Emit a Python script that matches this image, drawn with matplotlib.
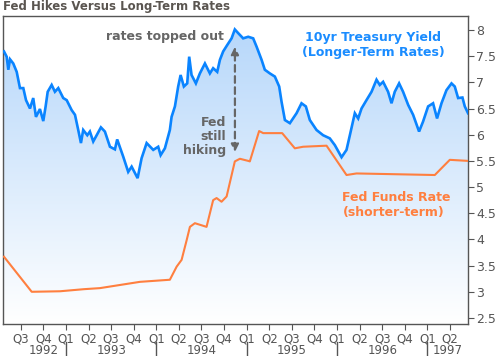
import numpy as np
import matplotlib
matplotlib.use("Agg")
import matplotlib.pyplot as plt
from matplotlib.colors import LinearSegmentedColormap
from matplotlib.transforms import blended_transform_factory

# ---- data (decimal year, percent) ----
tsy_year = [1992.314, 1992.344, 1992.362, 1992.381, 1992.417, 1992.455, 1992.491, 1992.528,
            1992.558, 1992.602, 1992.638, 1992.668, 1992.712, 1992.749, 1992.775, 1992.798,
            1992.842, 1992.878, 1992.915, 1992.970, 1993.008, 1993.063, 1993.100, 1993.136,
            1993.166, 1993.191, 1993.236, 1993.265, 1993.302, 1993.340, 1993.387, 1993.431,
            1993.487, 1993.542, 1993.567, 1993.634, 1993.689, 1993.727, 1993.793, 1993.837,
            1993.893, 1993.966, 1994.021, 1994.048, 1994.095, 1994.150, 1994.169, 1994.206,
            1994.242, 1994.269, 1994.305, 1994.342, 1994.364, 1994.390, 1994.438, 1994.482,
            1994.538, 1994.593, 1994.629, 1994.674, 1994.704, 1994.740, 1994.784, 1994.833,
            1994.869, 1994.906, 1994.961, 1995.017, 1995.072, 1995.110, 1995.165, 1995.201,
            1995.257, 1995.312, 1995.360, 1995.386, 1995.423, 1995.478, 1995.552, 1995.607,
            1995.655, 1995.699, 1995.773, 1995.846, 1995.920, 1995.976, 1996.050, 1996.105,
            1996.142, 1996.197, 1996.234, 1996.271, 1996.326, 1996.382, 1996.437, 1996.473,
            1996.510, 1996.565, 1996.603, 1996.639, 1996.687, 1996.731, 1996.787, 1996.842,
            1996.908, 1996.952, 1997.008, 1997.063, 1997.107, 1997.156, 1997.211, 1997.267,
            1997.303, 1997.340, 1997.388, 1997.414, 1997.450]
tsy_yield = [7.59, 7.49, 7.24, 7.44, 7.36, 7.20, 6.89, 6.89,
             6.66, 6.50, 6.70, 6.34, 6.49, 6.26, 6.54, 6.82,
             6.95, 6.82, 6.89, 6.70, 6.66, 6.47, 6.38, 6.09,
             5.84, 6.09, 5.99, 6.06, 5.87, 5.99, 6.14, 6.06,
             5.77, 5.72, 5.91, 5.58, 5.29, 5.39, 5.17, 5.55,
             5.84, 5.71, 5.77, 5.61, 5.74, 6.09, 6.34, 6.54,
             6.92, 7.14, 6.92, 6.98, 7.49, 7.14, 6.98, 7.17,
             7.36, 7.17, 7.27, 7.20, 7.43, 7.59, 7.71, 7.84,
             8.01, 7.94, 7.84, 7.87, 7.84, 7.68, 7.43, 7.24,
             7.17, 7.11, 6.92, 6.63, 6.28, 6.22, 6.41, 6.60,
             6.54, 6.28, 6.09, 5.99, 5.93, 5.80, 5.57, 5.71,
             5.99, 6.41, 6.31, 6.50, 6.66, 6.82, 7.05, 6.95,
             7.01, 6.82, 6.60, 6.82, 6.98, 6.82, 6.57, 6.38,
             6.06, 6.25, 6.54, 6.60, 6.31, 6.60, 6.85, 6.98,
             6.92, 6.70, 6.71, 6.54, 6.41]

ff_year = [1992.314, 1992.621, 1992.934, 1993.200, 1993.376, 1993.819, 1994.150, 1994.225,
           1994.280, 1994.335, 1994.372, 1994.427, 1994.556, 1994.629, 1994.667, 1994.722,
           1994.778, 1994.869, 1994.925, 1995.017, 1995.035, 1995.138, 1995.183, 1995.393,
           1995.533, 1995.625, 1995.884, 1996.105, 1996.216, 1997.082, 1997.248, 1997.447]
ff_rate = [3.67, 3.00, 3.01, 3.05, 3.07, 3.19, 3.23, 3.48,
           3.61, 3.98, 4.24, 4.31, 4.24, 4.75, 4.79, 4.72,
           4.82, 5.49, 5.54, 5.50, 5.49, 6.07, 6.03, 6.03,
           5.74, 5.77, 5.79, 5.23, 5.26, 5.23, 5.52, 5.50]

quarter_labels = ["Q1", "Q2", "Q3", "Q4"]
years = [1992, 1993, 1994, 1995, 1996, 1997]
y_ticks = [2.5, 3, 3.5, 4, 4.5, 5, 5.5, 6, 6.5, 7, 7.5, 8]

BLUE = "#0a84ff"
ORANGE = "#ff7f3f"
GRAY = "#666666"
X0, X1 = 1992.303, 1997.447
Y0, Y1 = 2.385, 8.267

fig = plt.figure(figsize=(4.95, 3.56), dpi=100)
ax = fig.add_axes([0.006, 0.0899, 0.939, 0.8652])
ax.set_xlim(X0, X1)
ax.set_ylim(Y0, Y1)

# gradient fill under the treasury line
cmap = LinearSegmentedColormap.from_list("fade", ["#ffffff", "#b6d7fa"])
grad = np.linspace(0, 1, 256).reshape(-1, 1)
img = ax.imshow(grad, cmap=cmap, aspect="auto", origin="lower",
                extent=[X0, X1, Y0, 8.1], zorder=1)
poly = ax.fill_between(tsy_year, tsy_yield, Y0, color="none", lw=0)
img.set_clip_path(poly.get_paths()[0], transform=ax.transData)

ax.plot(tsy_year, tsy_yield, color=BLUE, lw=1.9, zorder=3, solid_joinstyle="miter")
ax.plot(ff_year, ff_rate, color=ORANGE, lw=1.5, zorder=3)

# spines / y ticks on the right
for s in ax.spines.values():
    s.set_color("#555555")
    s.set_linewidth(1.0)
ax.yaxis.tick_right()
ax.set_yticks(y_ticks)
ax.set_yticklabels([f"{v:g}" for v in y_ticks])
ax.tick_params(axis="y", length=4, color="#555555", labelcolor="#555555",
               labelsize=9, pad=2)

# quarter ticks
q_pos, q_lab = [], []
for yr in years:
    for q in range(4):
        p = yr + q * 0.25
        if X0 < p < X1:
            q_pos.append(p)
            q_lab.append(quarter_labels[q])
ax.set_xticks(q_pos)
ax.set_xticklabels(q_lab)
ax.tick_params(axis="x", length=4, color="#555555", labelcolor="#555555",
               labelsize=8.5, pad=2)

# year labels and separators under the axis
trans = blended_transform_factory(ax.transData, ax.transAxes)
for yr in years:
    lo, hi = max(yr, X0 + 0.2), min(yr + 1, X1)
    ax.text((lo + hi) / 2, -0.087, str(yr), transform=trans, ha="center", va="center",
            fontsize=8.5, color="#555555")
    if yr > years[0]:
        ax.plot([yr, yr], [-0.06, -0.105], transform=trans, color="#555555",
                lw=1.0, clip_on=False)

# annotations
ax.text(1994.095, 7.87, "rates topped out", ha="center", va="center",
        fontsize=9, fontweight="bold", color=GRAY)
ax.annotate("", xy=(1994.87, 7.68), xytext=(1994.87, 5.67),
            arrowprops=dict(arrowstyle="<|-|>", linestyle=(0, (3, 2)), color=GRAY,
                            lw=1.6, mutation_scale=11, shrinkA=0, shrinkB=0), zorder=4)
ax.text(1994.77, 5.96, "Fed\nstill\nhiking", ha="right", va="center",
        fontsize=9, fontweight="bold", color=GRAY, linespacing=1.1)
ax.text(1996.40, 7.72, "10yr Treasury Yield\n(Longer-Term Rates)", ha="center",
        va="center", fontsize=9, fontweight="bold", color="#1a8cff", linespacing=1.2)
ax.text(1996.06, 4.66, "Fed Funds Rate\n(shorter-term)", ha="left", va="center",
        fontsize=9, fontweight="bold", color=ORANGE, linespacing=1.2)

fig.text(0.006, 0.982, "Fed Hikes Versus Long-Term Rates", ha="left", va="center",
         fontsize=8.5, fontweight="bold", color="#5a5550")

fig.savefig("out.png", dpi=100)
